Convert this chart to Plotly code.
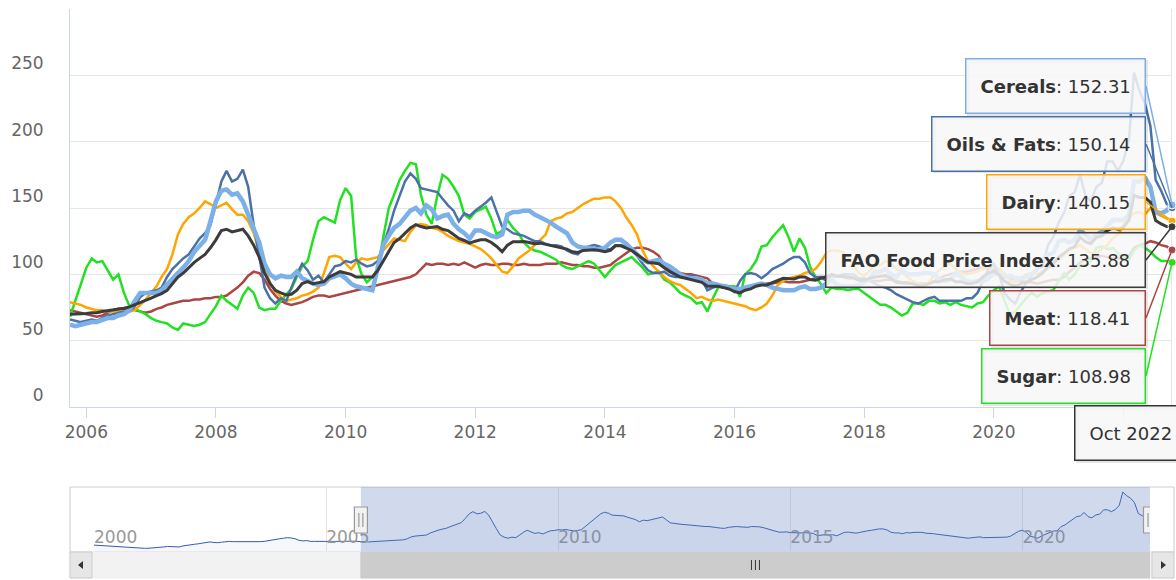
import pandas as pd
import plotly.graph_objects as go

# ---------------- data (FAO indices, 2014-2016 = 100), monthly from Oct 2005 to Oct 2022 ----------------
first_month = "2005-10-01"

ffpi = [70, 70, 70,
        70.5, 71, 71, 72, 72.5, 73, 74, 74.5, 75.5, 77, 79, 80,
        82, 84, 85.5, 88, 93, 98, 101, 105, 109, 112, 115, 120,
        126, 133, 134, 132, 133, 134, 129, 122, 113, 101, 93, 88,
        86, 84.5, 85, 88, 93, 94.5, 93, 94, 94.5, 98, 100, 102,
        101, 100, 98, 98, 98, 98, 103, 110, 118, 124, 127, 131,
        135, 137.5, 136, 135, 135.5, 136, 134, 133, 130, 127, 125.5, 123.5,
        125, 126, 126, 124, 121, 117, 122, 124.5, 124.5, 124.7, 124, 123,
        123.5, 122.5, 122, 121, 120, 119, 117, 116.5, 118, 118.5, 118.5, 118,
        117, 118, 121.5, 121.5, 120, 118, 115, 112, 109, 108.5, 108, 105,
        102, 100, 98, 97, 96, 95, 94, 91, 91, 91, 90, 89,
        87, 86, 88, 89, 91, 92, 92, 94, 95.5, 97, 97, 96.5,
        98, 98, 96, 95.5, 97, 98, 100, 98.5, 98.5, 98, 97.5, 95.5,
        95.5, 97, 98, 98.5, 99, 97, 94, 93.5, 93, 93, 91.5, 91,
        93, 94.5, 94.5, 96, 96.5, 94.5, 94.5, 93, 93, 94.5, 98, 101,
        102.5, 99.5, 95, 92.5, 91, 93, 94, 96, 98, 101, 105.5, 108,
        113, 116, 119, 121, 128, 124.5, 123, 128, 129, 133, 135, 134,
        135.5, 141, 159.5, 158, 158, 154.5, 140.5, 138, 136, 135.88]

cereals = [62, 61, 62,
           63, 64, 64, 66, 67, 67, 69, 70, 73, 80, 86, 86,
           86, 86, 88, 92, 96, 101, 105, 110, 117, 122, 126, 140,
           155, 163, 164, 160, 161, 155, 145, 136, 124, 108, 100, 97,
           99, 98, 98, 102, 97, 95, 93, 92, 93, 97, 99, 100,
           97, 93, 91, 90, 89, 88, 105, 122, 129, 135, 138, 143,
           148, 150, 146, 152, 149, 142, 144, 145, 138, 134, 131, 127,
           133, 133, 131, 129, 128, 130, 145, 147, 147, 148, 148, 145,
           143, 141, 139, 136, 134, 131, 124, 121, 120, 120, 119, 119,
           120, 124, 126, 126, 123, 119, 114, 111, 109, 110, 111, 108,
           106, 103, 100, 98, 97, 97, 96, 93, 93, 92, 91, 90,
           89, 89, 90, 91, 92, 93, 92, 90, 89, 88, 88, 88,
           90, 91, 89, 89, 90, 93, 96, 92, 91, 91, 91, 92,
           94, 97, 102, 102, 104, 100, 98, 103, 100, 100, 100, 101,
           101, 100, 96, 95, 96, 101, 98, 95, 94, 95, 95, 97,
           101, 100, 98, 99, 97, 97, 98, 100, 104, 111, 115, 116,
           125, 126, 124, 126, 133, 130, 126, 130, 132, 137, 141, 141,
           141, 145, 170, 170, 173, 166, 147, 146, 148, 152.31]

oils = [66, 65, 64,
        65, 66, 65, 67, 69, 70, 71, 72, 72, 76, 83, 86,
        87, 88, 90, 98, 104, 108, 112, 115, 121, 127, 131, 137,
        153, 170, 178, 170, 172, 179, 166, 137, 114, 90, 82, 78,
        82, 80, 90, 100, 108, 103, 96, 99, 94, 100, 106, 107,
        110, 109, 111, 108, 106, 107, 110, 122, 134, 148, 160, 170,
        176, 172, 165, 164, 163, 162, 157, 152, 148, 140, 146, 144,
        148, 151, 154, 158, 147, 136, 134, 131, 130, 129, 127, 125,
        125, 123, 122, 122, 121, 118, 116, 115, 119, 121, 122, 121,
        119, 119, 122, 122, 121, 118, 114, 108, 103, 101, 101, 102,
        99, 98, 98, 98, 99, 98, 96, 88, 90, 91, 90, 91,
        87, 95, 100, 101, 100, 97, 100, 104, 106, 108, 111, 113,
        113, 109, 101, 98, 98, 95, 99, 98, 100, 100, 100, 97,
        97, 95, 93, 91, 90, 88, 85, 83, 81, 79, 78, 80,
        82, 83, 80, 80, 80, 80, 80, 82, 82, 86, 95, 104,
        108, 100, 86, 81, 78, 87, 93, 99, 105, 106, 122, 128,
        139, 147, 159, 162, 175, 159, 155, 166, 169, 185, 185, 178,
        186, 202, 252, 238, 229, 212, 171, 163, 153, 150.14]

dairy = [79, 78, 77,
         75, 74, 73, 73, 72, 72, 72, 72, 72, 73, 77, 81,
         86, 91, 98, 104, 115, 130, 138, 143, 146, 150, 155, 153,
         150, 152, 154, 149, 145, 145, 140, 131, 117, 104, 94, 87,
         83, 80, 81, 82, 84, 85, 87, 90, 101, 113, 114, 113,
         108, 104, 109, 112, 111, 112, 113, 118, 123, 127, 126, 125,
         132, 137, 138, 137, 135, 134, 132, 129, 127, 125, 124, 123,
         121, 119, 116, 112, 107, 102, 101, 106, 112, 115, 118, 122,
         126, 130, 140, 142, 143, 146, 147, 150, 153, 155, 157, 157,
         158, 158, 155, 150, 143, 137, 130, 118, 110, 106, 102, 98,
         95, 93, 92, 89, 86, 82, 83, 81, 80, 81, 80, 79,
         78, 77, 76, 74, 73, 75, 78, 84, 92, 95, 97, 98,
         99, 101, 102, 104, 109, 116, 118, 118, 117, 113, 107, 101,
         99, 103, 106, 107, 110, 108, 104, 101, 98, 95, 93, 91,
         94, 100, 103, 106, 108, 104, 101, 100, 101, 102, 104, 104,
         105, 104, 101, 95, 94, 97, 100, 101, 100, 102, 105, 108,
         111, 115, 119, 120, 122, 119, 116, 116, 119, 122, 127, 130,
         137, 143, 146, 147, 145, 150, 146, 144, 142, 140.15]

meat = [73, 72, 71,
        70, 69, 68, 69, 71, 73, 74, 74, 74, 73, 72, 71,
        72, 74, 75, 77, 78, 79, 80, 80, 81, 81, 82, 82,
        83, 83, 84, 87, 90, 94, 99, 102, 101, 96, 89, 84,
        80, 78, 77, 78, 79, 81, 83, 84, 84, 83, 84, 85,
        86, 87, 88, 89, 90, 91, 92, 93, 94, 95, 96, 97,
        98, 100, 104, 108, 107, 108, 108, 107, 108, 107, 109, 107,
        105, 107, 108, 107, 107, 108, 108, 107, 107, 108, 107, 107,
        107, 108, 108, 108, 109, 108, 107, 107, 106, 106, 105, 105,
        106, 107, 110, 113, 116, 119, 120, 120, 119, 117, 114, 107,
        104, 101, 101, 100, 100, 99, 98, 97, 93, 91, 91, 90,
        88, 89, 89, 90, 92, 92, 93, 93, 94, 95, 94, 94,
        94, 95, 96, 97, 98, 98, 99, 99, 98, 97, 97, 96,
        95, 95, 95, 95, 96, 96, 95, 94, 94, 93, 93, 93,
        93, 95, 97, 99, 100, 101, 102, 102, 103, 104, 105, 106,
        104, 101, 99, 97, 96, 95, 94, 94, 93, 94, 95, 96,
        96, 98, 102, 105, 109, 111, 112, 113, 114, 113, 112, 112,
        112, 114, 120, 122, 123, 125, 124, 122, 121, 118.41]

sugar = [68, 80, 93,
         105, 112, 109, 110, 103, 96, 100, 86, 76, 74, 72, 70,
         67, 65, 64, 63, 60, 58, 63, 62, 61, 62, 64, 70,
         76, 84, 80, 77, 74, 84, 90, 86, 75, 73, 74, 74,
         80, 85, 89, 98, 106, 110, 126, 140, 143, 141, 139, 156,
         165, 159, 113, 100, 94, 98, 104, 128, 150, 160, 171, 178,
         184, 183, 160, 145, 138, 159, 175, 172, 166, 159, 145, 142,
         147, 149, 151, 142, 130, 133, 141, 135, 131, 124, 120, 118,
         117, 115, 113, 111, 107, 105, 104, 106, 108, 110, 108, 103,
         98, 103, 107, 109, 111, 113, 109, 105, 100, 101, 102, 96,
         94, 90, 86, 84, 82, 78, 79, 72, 82, 90, 92, 91,
         91, 83, 100, 104, 110, 121, 122, 128, 133, 137, 128, 117,
         127, 120, 106, 98, 93, 86, 90, 89, 89, 88, 89, 89,
         86, 83, 80, 77, 77, 75, 72, 69, 71, 78, 78, 77,
         80, 80, 78, 79, 77, 79, 77, 76, 75, 78, 79, 84,
         88, 91, 80, 70, 72, 77, 82, 86, 83, 86, 87, 88,
         95, 101, 96, 100, 107, 107, 110, 120, 121, 119, 120, 116,
         113, 111, 118, 122, 120, 117, 113, 110, 110, 108.98]

# Oils & Fats before the shown window (Jan 2000 - Sep 2005), only used by the navigator
nav_first_month = "2000-01-01"
oils_history = [52, 51, 50, 49, 48, 47, 45, 44, 43, 42, 41, 40,
                40, 40, 40, 41, 41, 42, 45, 47, 46, 44, 45, 49,
                52, 54, 55, 57, 60, 62, 64, 62, 61, 63, 66, 66,
                65, 65, 63, 63, 64, 64, 64, 65, 66, 69, 72, 74,
                76, 78, 80, 79, 76, 70, 68, 69, 66, 66, 66, 65,
                64, 64, 66, 66, 66, 66, 67, 67, 67]

main_tick_years = [2006, 2008, 2010, 2012, 2014, 2016, 2018, 2020, 2022]
main_tick_text = ["2006", "2008", "2010", "2012", "2014", "2016", "2018", "2020", ""]  # 2022 sits under the tooltip
nav_tick_years = [2000, 2005, 2010, 2015, 2020]
y_ticks = [0, 50, 100, 150, 200, 250, 300]
y_ticktext = ["0", "50", "100", "150", "200", "250", ""]

# ---------------- figure ----------------
W, H = 1176, 580
FONT = "DejaVu Sans"

for s in (ffpi, cereals, oils, dairy, meat, sugar):
    assert len(s) == 205, len(s)

dates = pd.date_range(first_month, periods=len(ffpi), freq="MS")
nav_vals = oils_history + oils
nav_dates = pd.date_range(nav_first_month, periods=len(nav_vals), freq="MS")

series = [
    ("Meat", meat, "#AA4643", 2.5),
    ("Sugar", sugar, "#22E022", 2.5),
    ("Dairy", dairy, "#FFA500", 2.5),
    ("Oils & Fats", oils, "#4A72A8", 2.5),
    ("Cereals", cereals, "#7CB0E8", 4.5),
    ("FAO Food Price Index", ffpi, "#3C3C3C", 3),
]


def px(x):
    return x / W


def py(y):
    return 1 - y / H


# plot geometry (pixels)
PL, PR, PT, PB = 70, 1172, 9, 407
NL, NR, NT, NB = 94, 1150, 487, 552
SB = 578

fig = go.Figure()

for name, vals, color, width in series:
    fig.add_trace(go.Scatter(x=dates, y=vals, name=name, mode="lines",
                             line=dict(color=color, width=width), xaxis="x", yaxis="y"))

# hovered point markers
fig.add_trace(go.Scatter(
    x=[dates[-1]] * len(series), y=[s[1][-1] for s in series], mode="markers",
    marker=dict(size=8, color=[s[2] for s in series], line=dict(color="white", width=1)),
    cliponaxis=False, xaxis="x", yaxis="y"))

# navigator series
fig.add_trace(go.Scatter(x=nav_dates, y=nav_vals, mode="lines",
                         line=dict(color="#335cad", width=1),
                         fill="tozeroy", fillcolor="rgba(51,92,173,0.05)",
                         xaxis="x2", yaxis="y2"))

shapes = []
# crosshair
shapes.append(dict(type="line", xref="x", yref="paper", x0=dates[-1], x1=dates[-1],
                   y0=py(PB), y1=py(PT), line=dict(color="#cccccc", width=1), layer="below"))
# navigator outline
shapes.append(dict(type="rect", xref="paper", yref="paper", x0=px(PL), x1=px(1174),
                   y0=py(NB), y1=py(NT), line=dict(color="#cccccc", width=1), layer="below"))
# navigator mask
shapes.append(dict(type="rect", xref="x2", yref="paper", x0=dates[0], x1=dates[-1],
                   y0=py(NB), y1=py(NT), fillcolor="rgba(102,133,194,0.3)",
                   line=dict(width=0), layer="above"))
# scrollbar track, thumb, buttons
shapes.append(dict(type="rect", xref="paper", yref="paper", x0=px(PL), x1=px(1174),
                   y0=py(SB), y1=py(NB), fillcolor="#f2f2f2", line=dict(color="#f2f2f2", width=1)))
shapes.append(dict(type="rect", xref="x2", yref="paper", x0=dates[0], x1=dates[-1],
                   y0=py(SB), y1=py(NB), fillcolor="#cccccc", line=dict(color="#cccccc", width=1)))
for bx0, bx1 in ((PL, 92), (1152, 1174)):
    shapes.append(dict(type="rect", xref="paper", yref="paper", x0=px(bx0), x1=px(bx1),
                       y0=py(SB), y1=py(NB), fillcolor="#e6e6e6", line=dict(color="#cccccc", width=1)))


def path(points):
    return "M " + " L ".join(f"{px(a):.5f},{py(b):.5f}" for a, b in points) + " Z"


shapes.append(dict(type="path", xref="paper", yref="paper",
                   path=path([(83, 561), (78, 565), (83, 569)]), fillcolor="#333333", line=dict(width=0)))
shapes.append(dict(type="path", xref="paper", yref="paper",
                   path=path([(1161, 561), (1166, 565), (1161, 569)]), fillcolor="#333333", line=dict(width=0)))
# rifle on the thumb
for off in (-4, 0, 4):
    shapes.append(dict(type="line", xref="x2", yref="paper", xsizemode="pixel",
                       xanchor=dates[0] + (dates[-1] - dates[0]) / 2, x0=off, x1=off,
                       y0=py(570), y1=py(560), line=dict(color="#333333", width=1)))
# navigator handles
for d in (dates[0], dates[-1]):
    shapes.append(dict(type="rect", xref="x2", yref="paper", xsizemode="pixel", xanchor=d,
                       x0=-6.5, x1=6.5, y0=py(533), y1=py(507), fillcolor="#f2f2f2",
                       line=dict(color="#999999", width=1.2), layer="above"))
    for off in (-2, 2):
        shapes.append(dict(type="line", xref="x2", yref="paper", xsizemode="pixel", xanchor=d,
                           x0=off, x1=off, y0=py(527), y1=py(513),
                           line=dict(color="#888888", width=1), layer="above"))

# tooltip boxes (split tooltip, sorted by value)
annotations = []
y_px_per_unit = (PB - PT) / 300.0
order = sorted(series, key=lambda s: -s[1][-1])
box_top0, box_pitch, box_h = 58, 58, 56
tip_font = dict(family=FONT, size=18, color="#333333")
for i, (name, vals, color, width) in enumerate(order):
    centre = box_top0 + i * box_pitch + box_h / 2
    point_px = PB - vals[-1] * y_px_per_unit
    text = f"<b>{name}</b>: {vals[-1]:.2f}"
    common = dict(x=dates[-1], y=vals[-1], xref="x", yref="y", text=text,
                  showarrow=True, arrowhead=0, standoff=0,
                  ax=-(PR - 1146), ay=centre - point_px, xanchor="right", yanchor="middle",
                  height=25)
    # soft shadow
    annotations.append(dict(common, arrowcolor="rgba(0,0,0,0)", arrowwidth=0.1,
                            bgcolor="rgba(0,0,0,0)", bordercolor="rgba(0,0,0,0.10)",
                            borderwidth=3, borderpad=12.5, xshift=1.5, yshift=-1.5,
                            font=dict(tip_font, color="rgba(0,0,0,0)")))
    annotations.append(dict(common, arrowwidth=1.5, arrowcolor=color,
                            bgcolor="rgba(247,247,247,0.85)", bordercolor=color,
                            borderwidth=1.5, borderpad=14, font=tip_font))

header = dict(x=dates[-1], y=py(405), xref="x", yref="paper", xanchor="left", yanchor="top",
              xshift=-(PR - 1074), text=dates[-1].strftime("%b %Y"), showarrow=False, height=25)
annotations.append(dict(header, bgcolor="rgba(0,0,0,0)", bordercolor="rgba(0,0,0,0.10)",
                        borderwidth=3, borderpad=12.5, xshift=-(PR - 1074) + 1.5, yshift=-1.5,
                        font=dict(tip_font, color="rgba(0,0,0,0)")))
annotations.append(dict(header, bgcolor="rgba(247,247,247,0.85)", bordercolor="#333333",
                        borderwidth=1.5, borderpad=14, font=tip_font))

fig.update_layout(
    width=W, height=H, margin=dict(l=0, r=0, t=0, b=0),
    paper_bgcolor="white", plot_bgcolor="white", showlegend=False, hovermode=False,
    font=dict(family=FONT, color="#666666"),
    xaxis=dict(domain=[px(PL), px(PR)], range=[dates[0], dates[-1]], type="date", anchor="y",
               showgrid=False, zeroline=False, showline=True, linecolor="#ccd6eb", linewidth=1,
               ticks="outside", ticklen=10, tickcolor="#ccd6eb",
               tickvals=[pd.Timestamp(f"{y}-01-01") for y in main_tick_years],
               ticktext=main_tick_text,
               tickfont=dict(family=FONT, size=17, color="#666666"), automargin=False),
    yaxis=dict(domain=[py(PB), py(PT)], range=[0, 300], anchor="x",
               tickvals=y_ticks, ticktext=y_ticktext, showgrid=True, gridcolor="#e6e6e6",
               zeroline=False, showline=True, linecolor="#ccd6eb", linewidth=1, ticks="",
               ticklabelposition="outside top", ticklabelstandoff=22,
               tickfont=dict(family=FONT, size=17, color="#666666"), automargin=False),
    xaxis2=dict(domain=[px(NL), px(NR)], range=[nav_dates[0], nav_dates[-1]], type="date",
                anchor="y2", showgrid=True, gridcolor="#e6e6e6", zeroline=False, showline=False,
                ticks="", tickvals=[pd.Timestamp(f"{y}-01-01") for y in nav_tick_years],
                ticktext=[str(y) for y in nav_tick_years], ticklabelposition="inside right",
                tickfont=dict(family=FONT, size=17, color="#999999"), automargin=False),
    yaxis2=dict(domain=[py(NB), py(NT)], range=[26, 271], anchor="x2", visible=False,
                showgrid=False, zeroline=False),
    shapes=shapes, annotations=annotations,
)

fig.write_html("out.html", config={"displayModeBar": False, "staticPlot": True},
               post_script="document.body.style.margin='0';document.body.style.overflow='hidden';")
